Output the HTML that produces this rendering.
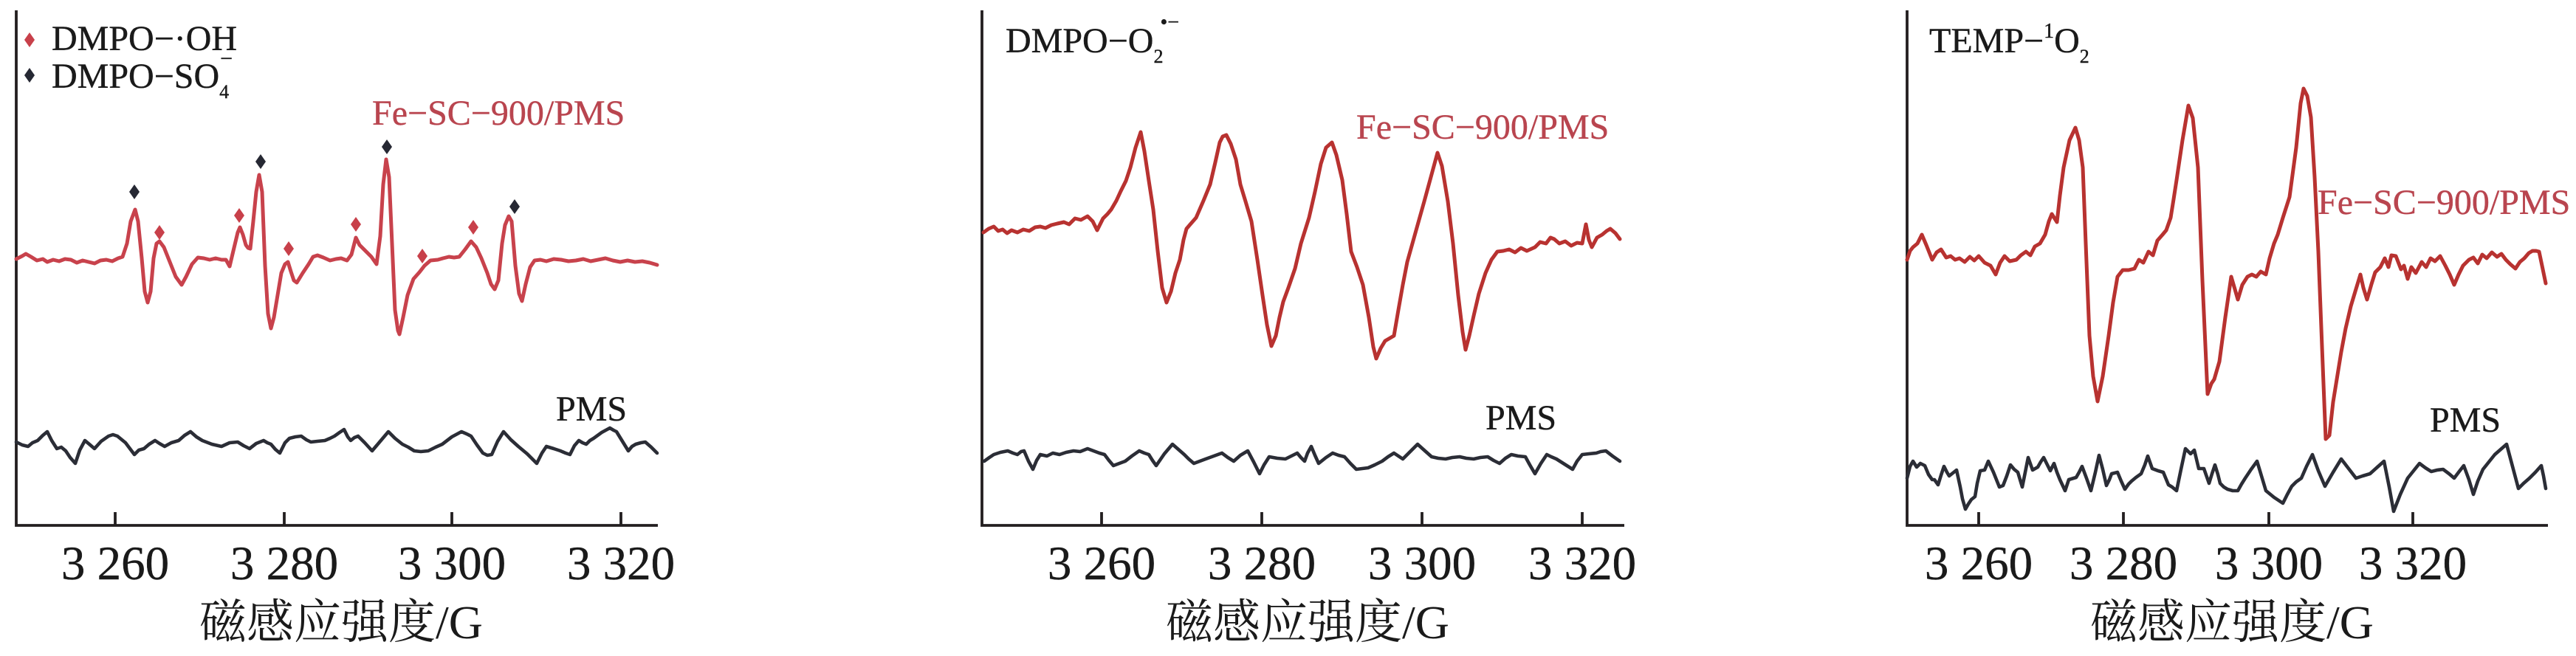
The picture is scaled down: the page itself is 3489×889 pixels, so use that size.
<!DOCTYPE html>
<html>
<head>
<meta charset="utf-8">
<style>
html,body{margin:0;padding:0;background:#fff;}
svg{display:block;}
text{font-family:"Liberation Serif","Noto Serif CJK SC",serif;}
.t{font-size:48px;fill:#1a1a1a;stroke:#1a1a1a;stroke-width:0.4;}
.r{font-size:48px;fill:#b9454f;stroke:#b9454f;stroke-width:0.4;}
.tk{font-size:65px;fill:#1a1a1a;text-anchor:middle;stroke:#1a1a1a;stroke-width:0.4;}
.xl{font-size:64px;fill:#1a1a1a;text-anchor:middle;font-family:"Liberation Serif","Noto Serif CJK SC",serif;}
.ax{stroke:#231f20;stroke-width:3.8;fill:none;}
.red1{stroke:#c8424c;stroke-width:5;fill:none;stroke-linejoin:round;stroke-linecap:round;}
.red2{stroke:#b83230;stroke-width:5;fill:none;stroke-linejoin:round;stroke-linecap:round;}
.blk{stroke:#2b2d36;stroke-width:4.6;fill:none;stroke-linejoin:round;stroke-linecap:round;}
</style>
</head>
<body>
<svg width="3489" height="889" viewBox="0 0 3489 889" xmlns="http://www.w3.org/2000/svg">
<rect width="3489" height="889" fill="#fff"/>

<!-- ===== Panel 1 ===== -->
<path class="ax" d="M22,14 V712 H891 M156,694 V712 M385,694 V712 M612,694 V712 M841,694 V712"/>
<text class="tk" x="156" y="785">3 260</text>
<text class="tk" x="385" y="785">3 280</text>
<text class="tk" x="612" y="785">3 300</text>
<text class="tk" x="841" y="785">3 320</text>
<text class="xl" x="462" y="865">磁感应强度/G</text>

<!-- legend -->
<path d="M40,44 L47,54 L40,64 L33,54 Z" fill="#c8404a"/>
<path d="M40,92 L47,102 L40,112 L33,102 Z" fill="#262833"/>
<text class="t" x="70" y="68">DMPO−·OH</text>
<text class="t" x="70" y="119">DMPO−SO<tspan font-size="26" dy="14">4</tspan><tspan font-size="30" dx="-12" dy="-44">−</tspan></text>

<text class="r" x="504" y="169">Fe−SC−900/PMS</text>
<text class="t" x="753" y="570">PMS</text>

<polyline class="red1" points="22,351 30,347 35,344 42,348 50,353 58,351 64,355 72,352 80,354 88,351 96,352 104,356 112,353 120,355 128,357 136,353 144,352 152,354 160,350 166,348 172,330 177,300 183,284 187,300 192,350 196,395 200,410 204,395 208,350 212,330 216,327 222,335 230,355 238,375 246,386 252,375 260,358 268,349 276,350 284,352 292,350 300,352 306,352 311,361 316,340 322,315 325,308 329,318 333,332 336,336 339,337 343,300 347,260 351,237 355,260 359,360 363,425 367,445 371,430 376,400 381,370 386,358 390,355 394,368 398,380 402,383 410,370 418,358 424,348 430,346 438,349 447,353 455,351 462,350 470,353 476,345 482,322 487,332 495,340 503,348 510,358 515,320 519,250 523,216 527,240 531,330 535,420 539,448 541,453 546,430 552,400 560,378 568,369 575,360 583,353 593,352 600,350 608,348 615,349 622,348 630,338 638,327 645,335 652,350 660,370 665,385 670,392 675,380 680,330 684,305 689,293 693,300 698,360 703,398 707,408 712,385 718,362 724,353 732,352 740,354 750,351 760,352 770,354 780,353 790,351 800,354 810,352 820,350 830,353 840,355 850,353 860,355 870,354 880,356 890,359"/>

<g fill="#262833">
<path d="M182,250 L189,260 L182,270 L175,260 Z"/>
<path d="M353,209 L360,219 L353,229 L346,219 Z"/>
<path d="M524,189 L531,199 L524,209 L517,199 Z"/>
<path d="M697,270 L704,280 L697,290 L690,280 Z"/>
</g>
<g fill="#c8404a">
<path d="M216,305 L223,315 L216,325 L209,315 Z"/>
<path d="M324,282 L331,292 L324,302 L317,292 Z"/>
<path d="M391,327 L398,337 L391,347 L384,337 Z"/>
<path d="M482,294 L489,304 L482,314 L475,304 Z"/>
<path d="M572,337 L579,347 L572,357 L565,347 Z"/>
<path d="M641,298 L648,308 L641,318 L634,308 Z"/>
</g>

<polyline class="blk" points="22,599 30,603 38,605 44,600 51,597 58,590 64,585 70,597 77,608 83,606 89,611 95,620 102,628 108,610 115,597 121,602 128,608 137,598 147,591 153,589 159,591 170,600 182,616 188,610 195,608 202,602 210,597 216,601 223,605 232,600 242,597 250,590 258,585 266,592 274,597 287,602 300,605 311,600 322,599 330,604 338,608 347,601 357,597 362,600 367,602 373,609 379,614 386,600 392,594 400,592 408,591 415,596 421,599 430,598 440,597 447,594 453,591 460,586 466,582 471,592 475,597 480,593 485,591 494,600 504,611 515,598 526,585 535,594 545,602 553,606 561,611 570,612 580,611 590,606 599,602 612,592 625,585 632,588 638,591 646,603 654,614 660,617 666,616 674,598 682,585 692,596 702,605 714,615 727,628 734,614 740,605 750,608 759,611 766,614 772,616 778,604 784,597 789,600 794,602 799,597 804,594 815,586 826,580 831,583 835,585 843,598 851,611 856,605 861,602 868,600 874,599 882,606 890,614"/>

<!-- ===== Panel 2 ===== -->
<path class="ax" d="M1330,14 V712 H2200 M1492,694 V712 M1709,694 V712 M1926,694 V712 M2143,694 V712"/>
<text class="tk" x="1492" y="785">3 260</text>
<text class="tk" x="1709" y="785">3 280</text>
<text class="tk" x="1926" y="785">3 300</text>
<text class="tk" x="2143" y="785">3 320</text>
<text class="xl" x="1771" y="865">磁感应强度/G</text>

<text class="t" x="1362" y="71">DMPO−O<tspan font-size="26" dy="14">2</tspan><tspan font-size="28" dx="-4" dy="-46">•−</tspan></text>
<text class="r" x="1837" y="188">Fe−SC−900/PMS</text>
<text class="t" x="2012" y="582">PMS</text>

<polyline class="red2" points="1332,315 1339,310 1346,307 1352,313 1358,311 1364,316 1370,312 1378,315 1386,311 1394,313 1402,308 1409,307 1416,309 1424,305 1432,303 1441,301 1448,304 1456,296 1464,298 1473,293 1480,300 1486,312 1494,296 1500,290 1505,284 1512,272 1518,259 1525,245 1531,227 1538,200 1545,179 1550,205 1556,245 1562,284 1568,340 1574,390 1580,410 1586,395 1592,370 1598,352 1603,325 1607,310 1613,303 1620,295 1630,272 1639,250 1646,220 1652,193 1656,185 1661,183 1667,195 1674,216 1680,250 1687,273 1695,300 1703,352 1710,400 1716,440 1722,469 1728,455 1733,430 1738,409 1745,390 1754,364 1762,330 1773,295 1781,260 1789,222 1796,200 1804,193 1810,210 1818,244 1824,290 1830,341 1838,362 1846,386 1854,430 1860,470 1864,486 1870,472 1876,462 1888,455 1894,420 1900,386 1906,355 1913,330 1920,305 1929,273 1938,240 1947,207 1953,225 1961,273 1968,330 1975,400 1981,450 1985,474 1990,455 1996,428 2003,398 2012,370 2020,352 2028,341 2036,340 2044,338 2052,342 2060,336 2068,340 2079,335 2086,328 2094,330 2100,322 2105,324 2112,330 2120,327 2128,333 2136,329 2143,330 2148,304 2152,325 2156,335 2163,322 2170,318 2176,313 2181,310 2188,316 2194,324"/>

<polyline class="blk" points="1333,625 1340,620 1346,616 1355,613 1365,611 1372,614 1378,616 1383,612 1387,611 1393,625 1399,636 1404,624 1409,616 1418,618 1426,614 1435,616 1444,613 1454,611 1463,612 1473,608 1481,611 1489,614 1496,616 1502,624 1508,631 1516,628 1524,625 1533,618 1543,611 1550,614 1556,616 1561,624 1566,631 1577,615 1588,602 1596,609 1604,616 1610,622 1617,628 1625,625 1633,622 1644,618 1655,614 1663,620 1671,625 1680,617 1690,611 1698,626 1706,642 1712,630 1719,619 1730,621 1741,622 1749,618 1757,614 1762,620 1767,625 1771,614 1776,605 1781,617 1786,628 1796,620 1805,614 1813,617 1821,619 1829,628 1837,636 1845,635 1853,634 1862,630 1872,625 1880,619 1888,614 1894,618 1900,622 1910,612 1920,602 1930,611 1939,619 1948,621 1958,622 1967,620 1977,619 1986,621 1996,622 2005,620 2015,619 2023,624 2031,628 2039,621 2047,616 2056,618 2066,619 2072,630 2079,642 2087,628 2095,616 2101,619 2108,622 2119,629 2130,636 2136,625 2143,616 2152,615 2162,614 2168,612 2175,611 2184,618 2194,625"/>

<!-- ===== Panel 3 ===== -->
<path class="ax" d="M2583,14 V712 H3451 M2680,694 V712 M2876,694 V712 M3073,694 V712 M3268,694 V712"/>
<text class="tk" x="2680" y="785">3 260</text>
<text class="tk" x="2876" y="785">3 280</text>
<text class="tk" x="3073" y="785">3 300</text>
<text class="tk" x="3268" y="785">3 320</text>
<text class="xl" x="3023" y="865">磁感应强度/G</text>

<text class="t" x="2613" y="71">TEMP−<tspan font-size="28" dy="-20">1</tspan><tspan dy="20">O</tspan><tspan font-size="26" dy="14">2</tspan></text>
<text class="r" x="3139" y="290">Fe−SC−900/PMS</text>
<text class="t" x="3291" y="585">PMS</text>

<polyline class="red2" points="2583,352 2587,340 2591,335 2597,330 2603,318 2609,332 2617,352 2623,342 2629,338 2636,349 2642,347 2648,352 2654,350 2661,355 2668,348 2674,353 2680,347 2688,356 2696,360 2703,372 2709,356 2715,347 2722,354 2731,352 2737,346 2744,341 2750,346 2756,334 2763,330 2770,318 2775,300 2779,290 2786,301 2790,265 2795,227 2803,190 2811,173 2816,190 2821,227 2825,330 2830,455 2835,510 2841,544 2848,510 2856,455 2862,410 2868,375 2875,366 2883,366 2891,364 2897,352 2903,356 2910,341 2916,346 2922,326 2929,318 2934,312 2940,295 2944,270 2948,244 2956,190 2964,143 2970,160 2977,227 2983,380 2990,534 2995,520 2999,514 3006,490 3014,430 3022,375 3027,392 3031,406 3037,386 3044,375 3050,372 3056,375 3062,368 3069,372 3074,350 3080,330 3085,318 3092,295 3101,267 3110,200 3116,140 3120,120 3125,130 3130,159 3135,240 3140,341 3145,470 3150,595 3155,590 3160,545 3171,477 3177,445 3184,415 3190,395 3197,372 3201,390 3206,406 3212,385 3217,369 3224,362 3230,350 3235,362 3239,346 3245,347 3252,365 3256,360 3261,378 3266,362 3272,370 3280,355 3286,362 3292,350 3298,354 3305,347 3312,360 3318,372 3324,386 3330,372 3336,360 3344,352 3350,349 3356,357 3362,345 3368,350 3375,342 3382,348 3388,344 3394,352 3400,358 3407,364 3413,355 3419,350 3425,343 3430,340 3435,340 3439,341 3443,360 3448,384"/>

<polyline class="blk" points="2583,648 2587,632 2591,625 2596,633 2601,628 2607,631 2612,643 2617,650 2620,650 2625,657 2629,644 2633,632 2637,640 2640,645 2645,641 2650,637 2655,660 2658,676 2662,690 2666,683 2670,677 2675,673 2678,655 2682,638 2688,637 2693,625 2700,640 2708,660 2713,658 2718,645 2723,630 2728,636 2733,640 2739,660 2743,640 2747,620 2753,637 2760,633 2764,626 2768,620 2773,630 2777,638 2782,628 2786,640 2790,650 2797,665 2802,650 2812,647 2816,640 2820,632 2826,648 2832,665 2838,640 2843,617 2848,636 2853,658 2857,650 2860,642 2868,640 2873,652 2878,663 2883,656 2887,652 2893,647 2900,642 2905,630 2909,618 2915,635 2923,638 2930,640 2937,657 2942,660 2948,665 2954,636 2960,608 2967,615 2972,610 2978,635 2985,635 2992,655 2996,642 3000,630 3004,643 3007,655 3012,660 3017,663 3024,665 3031,665 3036,656 3041,648 3049,636 3057,625 3063,645 3069,665 3080,674 3092,682 3098,670 3104,659 3110,653 3117,648 3124,632 3132,616 3140,638 3149,659 3160,640 3171,622 3181,635 3191,648 3200,645 3210,642 3220,633 3229,625 3236,660 3242,693 3251,670 3261,648 3269,638 3277,628 3285,634 3293,639 3301,637 3309,636 3317,642 3324,648 3330,640 3337,631 3344,650 3350,670 3356,652 3363,636 3371,626 3379,616 3387,609 3395,602 3403,632 3411,662 3418,655 3426,648 3434,640 3442,631 3445,645 3448,662"/>
</svg>
</body>
</html>
